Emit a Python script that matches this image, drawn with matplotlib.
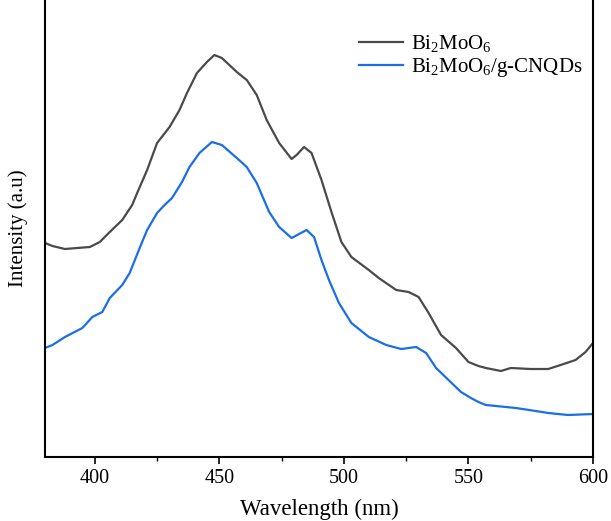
import matplotlib
matplotlib.use('Agg')
import matplotlib.pyplot as plt
from matplotlib.ticker import MultipleLocator

plt.rcParams['font.family'] = ['Liberation Serif', 'DejaVu Serif']
plt.rcParams['mathtext.fontset'] = 'custom'
plt.rcParams['mathtext.rm'] = 'Liberation Serif'

# PL spectra (arbitrary units)
wl_bmo = [380, 383, 388, 393, 398, 402, 406, 411, 415, 417, 421, 425, 430, 434, 437,
          441, 445, 448, 451, 457, 461, 465, 469, 474, 479, 481, 484, 487, 491, 495,
          499, 503, 510, 514, 521, 526, 530, 534, 539, 545, 550, 554, 557, 563, 567,
          575, 582, 587, 593, 597, 600]
int_bmo = [214, 211, 208, 209, 210, 215, 225, 237, 252, 264, 287, 314, 330, 347, 364,
           384, 395, 402, 399, 385, 377, 362, 337, 314, 298, 302, 310, 304, 277, 245,
           215, 200, 187, 179, 167, 165, 160, 144, 122, 109, 95, 91, 89, 86, 89,
           88, 88, 92, 97, 105, 114]

wl_cnqd = [380, 383, 388, 395, 399, 403, 406, 411, 414, 418, 421, 425, 428, 431, 435,
           438, 442, 447, 451, 457, 461, 465, 470, 474, 479, 482, 485, 488, 491, 494,
           498, 503, 510, 517, 523, 529, 533, 537, 542, 547, 551, 554, 557, 569, 577,
           582, 590, 600]
int_cnqd = [109, 112, 120, 129, 140, 145, 159, 172, 184, 209, 227, 244, 252, 259, 275,
            290, 304, 315, 312, 299, 290, 274, 245, 230, 219, 223, 227, 220, 197, 177,
            154, 134, 120, 112, 108, 110, 104, 89, 77, 65, 59, 55, 52, 49, 46,
            44, 42, 43]

fig = plt.figure(figsize=(6.11, 5.21), dpi=100)
ax = fig.add_axes([45/611, 64/521, 548/611, 457/521])

ax.plot(wl_bmo, int_bmo, color='#4a4a4a', lw=1.6, label=r'Bi$\mathregular{_2}$MoO$\mathregular{_6}$')
ax.plot(wl_cnqd, int_cnqd, color='#1a6ee8', lw=1.6,
        label=r'Bi$\mathregular{_2}$MoO$\mathregular{_6}$/g-CNQDs')

ax.set_xlim(380, 600)
ax.set_ylim(0, 457)
ax.xaxis.set_major_locator(MultipleLocator(50))
ax.xaxis.set_minor_locator(MultipleLocator(25))
ax.set_yticks([])
ax.tick_params(axis='x', which='major', length=5, width=1.2, labelsize=14.5, direction='out')
ax.tick_params(axis='x', which='minor', length=3, width=1.0, direction='out')
ax.spines['top'].set_visible(False)
for s in ['left', 'right', 'bottom']:
    ax.spines[s].set_linewidth(1.5)

ax.set_xlabel('Wavelength (nm)', fontsize=16.5, labelpad=8)
ax.set_ylabel('Intensity (a.u)', fontsize=15, labelpad=12)

ax.legend(loc='upper right', bbox_to_anchor=(1.011, 0.964), frameon=False, fontsize=15,
          handlelength=2.1, handletextpad=0.4, labelspacing=0.1, borderaxespad=0.4)

fig.savefig('out.png', dpi=100)
